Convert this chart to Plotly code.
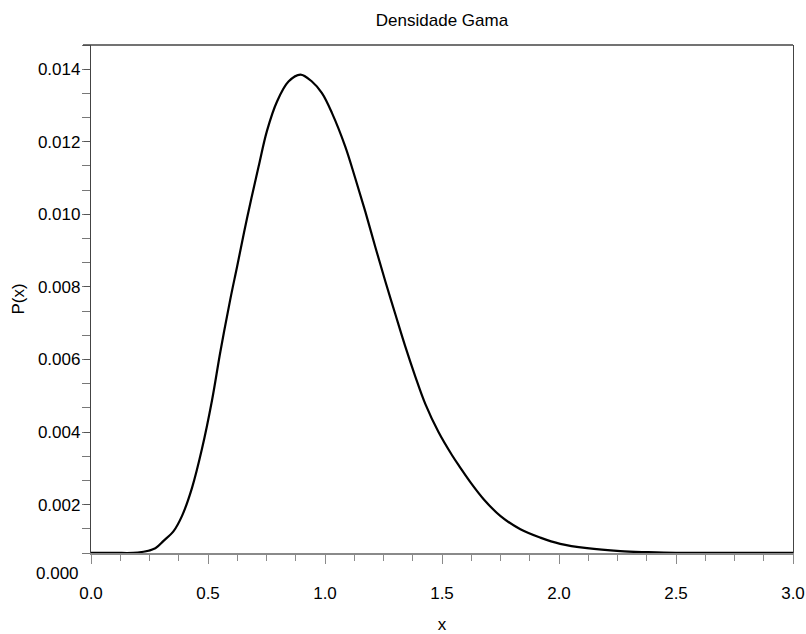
import plotly.graph_objects as go

# Curve values (x, P(x))
x_vals = [0.0, 0.10, 0.20, 0.275, 0.310, 0.353, 0.389, 0.432, 0.474, 0.517, 0.553,
          0.595, 0.624, 0.667, 0.716, 0.752, 0.795, 0.844, 0.895, 0.944, 0.987,
          1.030, 1.087, 1.129, 1.172, 1.215, 1.258, 1.300, 1.343, 1.386, 1.429,
          1.485, 1.543, 1.578, 1.621, 1.678, 1.749, 1.835, 1.920, 2.005, 2.120,
          2.262, 2.376, 2.50, 2.75, 3.0]
p_vals = [0.00067, 0.00067, 0.00068, 0.00080, 0.00100, 0.00127, 0.00169, 0.00247,
          0.00353, 0.00487, 0.00622, 0.00765, 0.00855, 0.00990, 0.01131, 0.01230,
          0.01311, 0.01366, 0.01385, 0.01366, 0.01334, 0.01279, 0.01186, 0.01100,
          0.01008, 0.00910, 0.00815, 0.00726, 0.00636, 0.00553, 0.00477, 0.00400,
          0.00336, 0.00302, 0.00262, 0.00215, 0.00169, 0.00132, 0.00109, 0.00092,
          0.00080, 0.00072, 0.00069, 0.00067, 0.00067, 0.00067]

y_major = [0.002, 0.004, 0.006, 0.008, 0.010, 0.012, 0.014]
y_range = [0.002 / 3, 0.044 / 3]
x_range = [0.0, 3.0]

FONT = "Liberation Sans, Arial, sans-serif"

W, H = 806, 634

fig = go.Figure()
fig.add_trace(go.Scatter(x=x_vals, y=p_vals, mode="lines",
                         line=dict(color="black", width=2.2, shape="spline", smoothing=1.0),
                         showlegend=False, hoverinfo="skip"))

fig.update_layout(
    width=W, height=H,
    margin=dict(l=91, r=13, t=45, b=81, autoexpand=False),
    paper_bgcolor="white", plot_bgcolor="white",
    font=dict(family=FONT, size=17, color="black"),
    title=dict(text="Densidade Gama", x=(91 + 793) / 2 / W, xanchor="center",
               y=1 - 20 / H, yanchor="middle", font=dict(size=17, family=FONT, color="black")),
    xaxis=dict(range=x_range, showgrid=False, zeroline=False, automargin=False,
               showline=True, linecolor="#8a8a8a", linewidth=1.5,
               tickmode="array", tickvals=[0, 0.5, 1.0, 1.5, 2.0, 2.5, 3.0],
               tickformat=".1f", ticks="outside", ticklen=9, tickcolor="#8a8a8a", tickwidth=1.3,
               ticklabelstandoff=15,
               minor=dict(dtick=0.125, tick0=0, ticks="outside", ticklen=6,
                          tickcolor="#8a8a8a", tickwidth=1.3, showgrid=False),
               title=dict(text="x", standoff=19, font=dict(size=17, family=FONT))),
    yaxis=dict(range=y_range, showgrid=False, zeroline=False, automargin=False,
               showline=True, linecolor="#444444", linewidth=1.3, mirror=True,
               tickmode="array", tickvals=y_major, tickformat=".3f",
               ticks="outside", ticklen=6, tickcolor="#555555", tickwidth=1.2,
               minor=dict(dtick=0.002 / 3, tick0=0, ticks="outside", ticklen=8,
                          tickcolor="#777777", tickwidth=1.2, showgrid=False),
               title=dict(text="P(x)", standoff=8, font=dict(size=17, family=FONT))),
    shapes=[dict(type="line", xref="paper", yref="paper", x0=-0.0114, x1=1, y0=1, y1=1,
                 line=dict(color="#444444", width=1.3))],
)

# the "0.000" label sits below the plotting area in the reference
zero_frac = (0.0 - y_range[0]) / (y_range[1] - y_range[0])
fig.add_annotation(text="0.000", xref="paper", yref="paper", x=0, y=zero_frac,
                   xanchor="right", yanchor="middle", xshift=-10, yshift=4,
                   showarrow=False, font=dict(size=17, family=FONT, color="black"))

fig.write_html("out.html", config={"displayModeBar": False},
               post_script="document.body.style.margin='0';document.body.style.overflow='hidden';")
